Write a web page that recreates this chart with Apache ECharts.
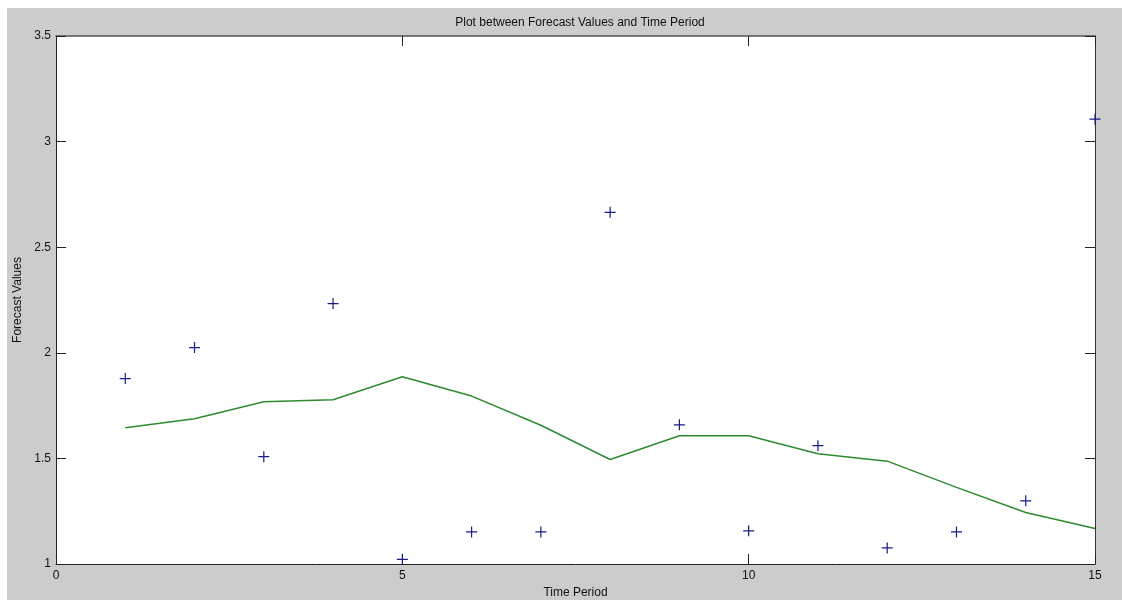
<!DOCTYPE html>
<html>
<head>
<meta charset="utf-8">
<script src="https://cdn.jsdelivr.net/npm/echarts@6/dist/echarts.min.js"></script>
<style>
  html, body { margin: 0; padding: 0; background: #ffffff; width: 1122px; height: 600px; overflow: hidden; }
  #chart { position: absolute; left: 7px; top: 8px; width: 1115px; height: 592px; }
</style>
</head>
<body>
<div id="chart"></div>
<script>
const timePeriods = [1, 2, 3, 4, 5, 6, 7, 8, 9, 10, 11, 12, 13, 14, 15];
const actualValues = [1.878, 2.025, 1.508, 2.233, 1.022, 1.152, 1.152, 2.665, 1.659, 1.157, 1.560, 1.076, 1.152, 1.299, 3.106];
const forecastValues = [1.645, 1.688, 1.768, 1.778, 1.887, 1.795, 1.657, 1.495, 1.607, 1.607, 1.522, 1.487, 1.363, 1.244, 1.168];
const xTicks = [0, 5, 10, 15];
const yTicks = [1, 1.5, 2, 2.5, 3, 3.5];

const titleText = 'Plot between Forecast Values and Time Period';
const xName = 'Time Period';
const yName = 'Forecast Values';

const font = '"Liberation Sans", Arial, sans-serif';
const plusPath = 'path://M4.45,0 h1.1 v4.45 h4.45 v1.1 h-4.45 v4.45 h-1.1 v-4.45 h-4.45 v-1.1 h4.45 z';

const chart = echarts.init(document.getElementById('chart'), null, { renderer: 'canvas' });

const axisLineStyle = { color: '#222', width: 1 };
const tickStyle = { show: true, inside: true, length: 10, lineStyle: { color: '#222', width: 1 } };

chart.setOption({
  backgroundColor: '#cccccc',
  animation: false,
  title: {
    text: titleText,
    left: 568,
    top: 4,
    textAlign: 'center',
    textStyle: { fontFamily: font, fontSize: 12, fontWeight: 'normal', color: '#111' }
  },
  grid: {
    left: 49, right: 27, top: 28, bottom: 36,
    containLabel: false,
    outerBoundsMode: 'none',
    show: true, backgroundColor: '#ffffff', borderWidth: 0
  },
  xAxis: [
    {
      type: 'value', min: xTicks[0], max: xTicks[xTicks.length - 1], interval: 5,
      position: 'bottom',
      name: xName, nameLocation: 'middle', nameGap: 21,
      nameTextStyle: { fontFamily: font, fontSize: 12, color: '#111' },
      axisLine: { show: true, onZero: false, lineStyle: axisLineStyle },
      axisTick: tickStyle,
      axisLabel: { fontFamily: font, fontSize: 12, color: '#111', margin: 6 },
      splitLine: { show: false }
    },
    {
      type: 'value', min: xTicks[0], max: xTicks[xTicks.length - 1], interval: 5,
      position: 'top',
      axisLine: { show: true, onZero: false, lineStyle: { color: '#555', width: 1.5 } },
      axisTick: tickStyle,
      axisLabel: { show: false },
      splitLine: { show: false }
    }
  ],
  yAxis: [
    {
      type: 'value', min: yTicks[0], max: yTicks[yTicks.length - 1], interval: 0.5,
      position: 'left',
      name: yName, nameLocation: 'middle', nameGap: 28, nameRotate: 90,
      nameTextStyle: { fontFamily: font, fontSize: 12, color: '#111' },
      axisLine: { show: true, onZero: false, lineStyle: axisLineStyle },
      axisTick: tickStyle,
      axisLabel: { fontFamily: font, fontSize: 12, color: '#111', margin: 5 },
      splitLine: { show: false }
    },
    {
      type: 'value', min: yTicks[0], max: yTicks[yTicks.length - 1], interval: 0.5,
      position: 'right',
      axisLine: { show: true, onZero: false, lineStyle: { color: '#333', width: 1 } },
      axisTick: tickStyle,
      axisLabel: { show: false },
      splitLine: { show: false }
    }
  ],
  series: [
    {
      name: 'Forecast',
      type: 'line',
      xAxisIndex: 0, yAxisIndex: 0,
      data: timePeriods.map((t, i) => [t, forecastValues[i]]),
      showSymbol: false,
      lineStyle: { color: '#2f8a2f', width: 1.5 },
      z: 3
    },
    {
      name: 'Actual',
      type: 'scatter',
      xAxisIndex: 0, yAxisIndex: 0,
      data: timePeriods.map((t, i) => [t, actualValues[i]]),
      symbol: plusPath,
      symbolSize: 11,
      itemStyle: { color: '#1a1a8c', opacity: 1 },
      z: 4
    }
  ]
});
</script>
</body>
</html>
